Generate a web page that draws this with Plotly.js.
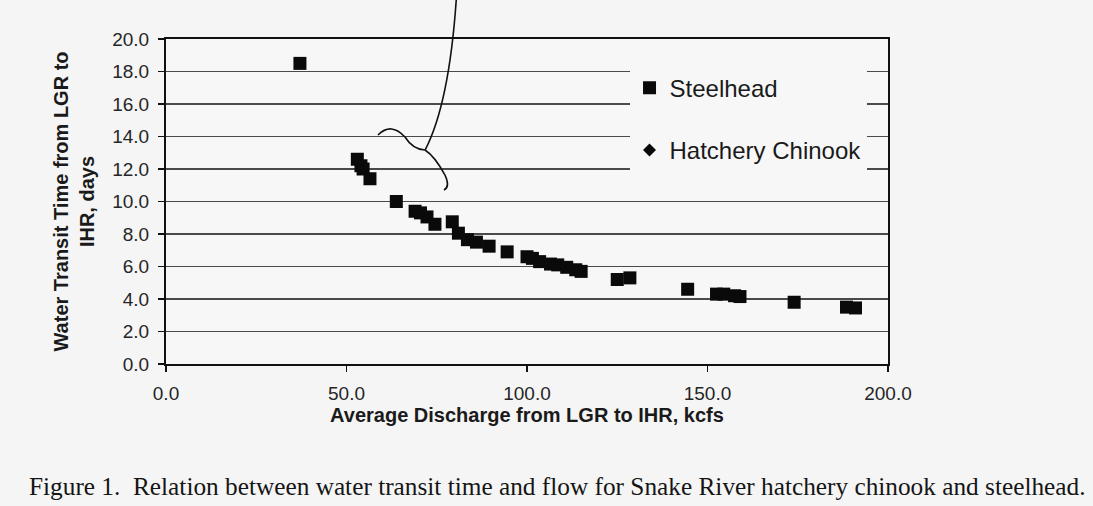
<!DOCTYPE html>
<html>
<head>
<meta charset="utf-8">
<script src="https://cdn.plot.ly/plotly-3.0.1.min.js"></script>
<style>html,body{margin:0;padding:0;background:#f5f5f5;}#chart{width:1093px;height:506px;}</style>
</head>
<body>
<div id="chart"></div>
<script>
// Steelhead: average discharge (kcfs) vs water transit time (days)
const steelheadDischarge = [37.1, 53.0, 54.0, 54.6, 56.5, 63.8, 69.0, 70.5, 72.3, 74.5, 79.3, 81.0, 83.5, 86.0, 89.5, 94.5, 100.0, 101.5, 103.5, 106.5, 108.5, 111.0, 113.5, 115.0, 125.0, 128.5, 144.5, 152.5, 154.5, 157.5, 159.0, 174.0, 188.5, 191.0];
const steelheadTransit   = [18.5, 12.6, 12.2, 12.0, 11.4, 10.0, 9.4, 9.3, 9.05, 8.6, 8.75, 8.05, 7.65, 7.5, 7.25, 6.9, 6.6, 6.5, 6.3, 6.15, 6.1, 5.95, 5.8, 5.7, 5.2, 5.3, 4.6, 4.3, 4.3, 4.2, 4.15, 3.8, 3.5, 3.45];
// Hatchery chinook: no separately visible points in the figure
const chinookDischarge = [null];
const chinookTransit = [null];

const xTickVals = [0, 50, 100, 150, 200];
const xTickText = ["0.0", "50.0", "100.0", "150.0", "200.0"];
const yTickVals = [0, 2, 4, 6, 8, 10, 12, 14, 16, 18, 20];
const yTickText = ["0.0", "2.0", "4.0", "6.0", "8.0", "10.0", "12.0", "14.0", "16.0", "18.0", "20.0"];

const seriesNames = ["Steelhead", "Hatchery Chinook"];
const xTitle = "Average Discharge from LGR to IHR, kcfs";
const yTitle = "Water Transit Time from LGR to<br>IHR, days";
const caption = "Figure 1.  Relation between water transit time and flow for Snake River hatchery chinook and steelhead.";

const traces = [
  {
    type: "scatter", mode: "markers", name: seriesNames[0], legendgroup: "a",
    x: steelheadDischarge, y: steelheadTransit,
    marker: {symbol: "square", size: 13, color: "#0a0a0a"}
  },
  {
    type: "scatter", mode: "markers", name: seriesNames[1], legendgroup: "b",
    x: chinookDischarge, y: chinookTransit,
    marker: {symbol: "diamond", size: 10, color: "#0a0a0a"}
  }
];

const axisFont = {family: "Liberation Sans, Arial, sans-serif", size: 19, color: "#262626"};
const titleFont = {family: "Liberation Sans, Arial, sans-serif", size: 20, color: "#1a1a1a", weight: "bold"};

const layout = {
  width: 1093, height: 506,
  margin: {l: 166, r: 205, t: 39, b: 142},
  paper_bgcolor: "#f5f5f5",
  plot_bgcolor: "#f7f7f7",
  showlegend: true,
  xaxis: {
    range: [0, 200], tickvals: xTickVals, ticktext: xTickText,
    showgrid: false, zeroline: false,
    showline: true, linecolor: "#111", linewidth: 2, mirror: true,
    ticks: "outside", ticklen: 6, tickcolor: "#111", tickwidth: 1.5,
    tickfont: axisFont, ticklabelstandoff: 5,
    title: {text: "<b>" + xTitle + "</b>", font: titleFont, standoff: 0},
    automargin: false
  },
  yaxis: {
    range: [0, 20], tickvals: yTickVals, ticktext: yTickText,
    showgrid: true, gridcolor: "#4a4a4a", gridwidth: 1.4, zeroline: false,
    showline: true, linecolor: "#111", linewidth: 2, mirror: true,
    ticks: "outside", ticklen: 6, tickcolor: "#111", tickwidth: 1.5,
    tickfont: axisFont, ticklabelstandoff: 5,
    title: {text: "<b>" + yTitle + "</b>", font: titleFont, standoff: 12},
    automargin: false
  },
  legend: {
    x: 0.642, xanchor: "left", y: 0.99, yanchor: "top",
    bgcolor: "#f7f7f7", borderwidth: 0,
    traceorder: "grouped", tracegroupgap: 28,
    font: {family: "Liberation Sans, Arial, sans-serif", size: 24, color: "#1a1a1a"},
    title: {text: "\u00a0", font: {size: 18}}
  },
  shapes: [
    {type: "path", xref: "paper", yref: "paper", layer: "above",
     path: "M 0.402 1.12 Q 0.392 0.80 0.359 0.659",
     line: {color: "#111", width: 1.6}},
    {type: "path", xref: "paper", yref: "paper", layer: "above",
     path: "M 0.2936 0.7046 Q 0.312 0.745 0.331 0.6985 Q 0.342 0.66 0.3587 0.6585 Q 0.372 0.64 0.3864 0.5815 Q 0.394 0.545 0.385 0.5354",
     line: {color: "#111", width: 1.6}}
  ],
  annotations: [
    {text: caption, xref: "paper", yref: "paper", x: -0.192, y: -0.375,
     xanchor: "left", yanchor: "middle", showarrow: false,
     font: {family: "Liberation Serif, Times New Roman, serif", size: 25.3, color: "#151515"}}
  ]
};

Plotly.newPlot("chart", traces, layout, {displayModeBar: false, staticPlot: true});
</script>
</body>
</html>
